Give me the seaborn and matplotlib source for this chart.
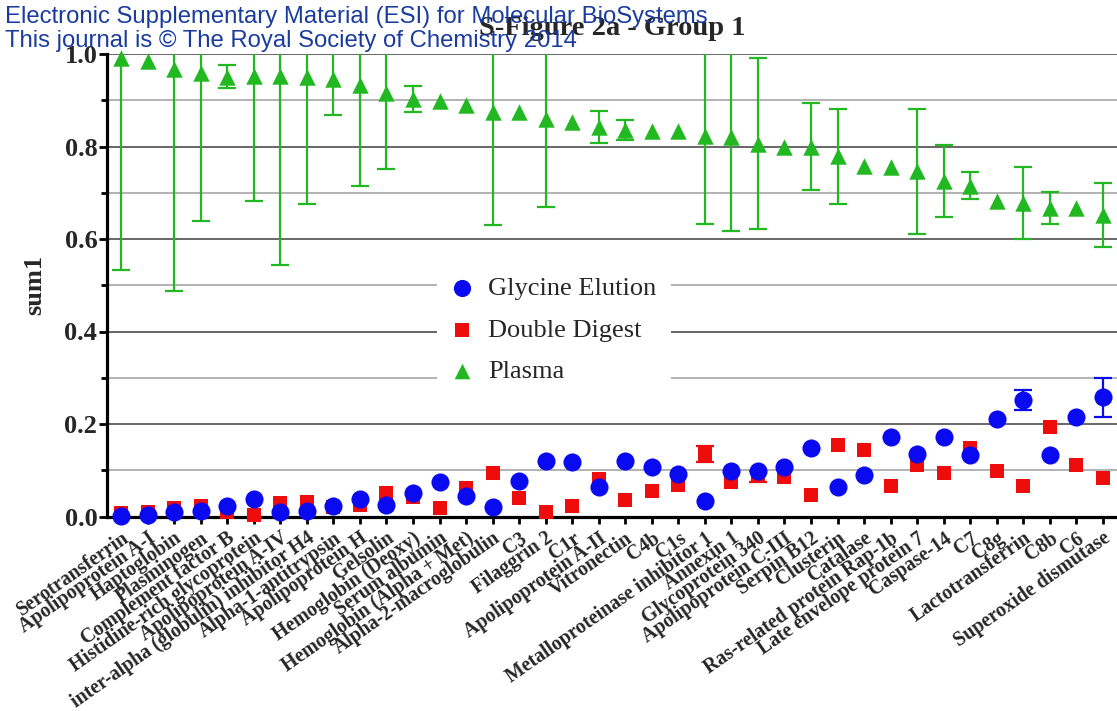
import numpy as np
import pandas as pd
import matplotlib
matplotlib.use("Agg")
import matplotlib.pyplot as plt
from matplotlib.ticker import MultipleLocator, FormatStrFormatter
import seaborn as sns

proteins = ["Serotransferrin", "Apolipoprotein A-I", "Haptoglobin", "Plasminogen",
            "Complement factor B", "Histidine-rich glycoprotein", "Apolipoprotein A-IV",
            "inter-alpha (globulin) inhibitor H4", "Alpha-1-antitrypsin", "Apolipoprotein H",
            "Gelsolin", "Hemoglobin (Deoxy)", "Serum albumin", "Hemoglobin (Alpha + Met)",
            "Alpha-2-macroglobulin", "C3", "Filaggrin 2", "C1r", "Apolipoprotein A-II",
            "Vitronectin", "C4b", "C1s", "Metalloproteinase inhibitor 1", "Annexin 1",
            "Glycoprotein 340", "Apolipoprotein C-III", "Serpin B12", "Clusterin", "Catalase",
            "Ras-related protein Rap-1b", "Late envelope protein 7", "Caspase-14", "C7", "C8g",
            "Lactotransferrin", "C8b", "C6", "Superoxide dismutase"]

plasma = [0.991, 0.984, 0.968, 0.958, 0.951, 0.952, 0.952, 0.950, 0.945, 0.933,
          0.915, 0.902, 0.899, 0.889, 0.875, 0.875, 0.859, 0.852, 0.842, 0.836,
          0.833, 0.833, 0.823, 0.820, 0.806, 0.800, 0.800, 0.779, 0.758, 0.756,
          0.746, 0.725, 0.715, 0.682, 0.678, 0.667, 0.667, 0.652]
plasma_err = [0.458, 0.0, 0.481, 0.319, 0.025, 0.269, 0.409, 0.275, 0.077, 0.218,
              0.164, 0.028, 0.0, 0.0, 0.245, 0.0, 0.190, 0.0, 0.034, 0.022,
              0.0, 0.0, 0.190, 0.202, 0.185, 0.0, 0.095, 0.103, 0.0, 0.0,
              0.136, 0.078, 0.029, 0.0, 0.077, 0.034, 0.0, 0.070]

glycine = [0.002, 0.003, 0.010, 0.012, 0.023, 0.037, 0.010, 0.012, 0.023, 0.037,
           0.025, 0.050, 0.075, 0.045, 0.021, 0.077, 0.121, 0.118, 0.064, 0.121,
           0.106, 0.092, 0.034, 0.099, 0.099, 0.107, 0.148, 0.063, 0.090, 0.171,
           0.135, 0.171, 0.132, 0.211, 0.252, 0.132, 0.215, 0.258]
glycine_err = [0.0] * 34 + [0.021, 0.0, 0.0, 0.042]

digest = [0.008, 0.010, 0.018, 0.023, 0.010, 0.003, 0.030, 0.032, 0.020, 0.025,
          0.051, 0.043, 0.018, 0.061, 0.095, 0.039, 0.010, 0.023, 0.082, 0.036,
          0.056, 0.069, 0.135, 0.074, 0.087, 0.085, 0.047, 0.154, 0.143, 0.067,
          0.111, 0.095, 0.148, 0.099, 0.067, 0.193, 0.111, 0.083]
digest_err = [0.0] * 22 + [0.017, 0.0, 0.012] + [0.0] * 13

series_names = ["Glycine Elution", "Double Digest", "Plasma"]
colors = {"Glycine Elution": "#0a0af0", "Double Digest": "#ee0c0c", "Plasma": "#22b822"}

sns.set_theme(style="white")
plt.rcParams["font.family"] = ["Liberation Serif", "DejaVu Serif"]

fig = plt.figure(figsize=(11.17, 7.11), dpi=100)
ax = fig.add_axes([107 / 1117, 1 - 516.5 / 711, 1010 / 1117, 462.5 / 711])

df = pd.DataFrame({"protein": proteins, "Plasma": plasma,
                   "Double Digest": digest, "Glycine Elution": glycine})

x_num = np.arange(len(proteins))

# error bars
def draw_err(vals, errs, color, lw, cap, z):
    vals = np.asarray(vals)
    errs = np.asarray(errs)
    m = errs > 0
    ax.errorbar(x_num[m], vals[m], yerr=errs[m], fmt="none", ecolor=color,
                elinewidth=lw, capsize=cap, capthick=lw, zorder=z)

draw_err(plasma, plasma_err, colors["Plasma"], 1.6, 6.5, 3)
draw_err(digest, digest_err, colors["Double Digest"], 1.6, 6.5, 4)
draw_err(glycine, glycine_err, colors["Glycine Elution"], 1.6, 6.5, 5)

df["pos"] = x_num
sns.scatterplot(data=df, x="pos", y="Plasma", marker="^", s=140, color=colors["Plasma"],
                linewidth=0, ax=ax, label="Plasma", clip_on=False, zorder=6)
sns.scatterplot(data=df, x="pos", y="Double Digest", marker="s", s=110,
                color=colors["Double Digest"], linewidth=0, ax=ax,
                label="Double Digest", clip_on=False, zorder=7)
sns.scatterplot(data=df, x="pos", y="Glycine Elution", marker="o", s=170,
                color=colors["Glycine Elution"], linewidth=0, ax=ax,
                label="Glycine Elution", clip_on=False, zorder=8)

ax.set_xlim(-0.53, 37.53)
ax.set_ylim(0, 1.0)
ax.set_xticks(x_num)
ax.set_xticklabels(proteins)
ax.yaxis.set_major_locator(MultipleLocator(0.2))
ax.yaxis.set_minor_locator(MultipleLocator(0.1))
ax.yaxis.set_major_formatter(FormatStrFormatter("%.1f"))

ax.set_axisbelow(True)
ax.yaxis.grid(True, which="major", color="#5a5a5a", linewidth=1.3)
ax.yaxis.grid(True, which="minor", color="#a5a5a5", linewidth=1.2)
ax.xaxis.grid(False)

for s in ["top", "right"]:
    ax.spines[s].set_visible(False)
for s in ["left", "bottom"]:
    ax.spines[s].set_color("black")
    ax.spines[s].set_linewidth(2.3)

ax.tick_params(axis="y", which="major", direction="out", length=5.5, width=2, color="black",
               pad=1.5, labelsize=19, left=True)
ax.tick_params(axis="y", which="minor", direction="out", length=4.5, width=2, color="black", left=True)
ax.tick_params(axis="x", which="major", direction="out", length=5, width=2, color="black",
               pad=3.5, labelsize=14.3, bottom=True)
for t in ax.get_yticklabels():
    t.set_fontweight("bold")
for t in ax.get_xticklabels():
    t.set_fontweight("bold")
    t.set_rotation(35)
    t.set_ha("right")
    t.set_va("top")
    t.set_rotation_mode("anchor")

ax.set_xlabel("")
ax.set_ylabel("sum1", fontsize=19, fontweight="bold")
ax.yaxis.set_label_coords(-0.0604, 0.5)

ax.set_title("S-Figure 2a - Group 1", fontsize=20.5, fontweight="bold", pad=14)

handles, labels = ax.get_legend_handles_labels()
order = [labels.index(n) for n in series_names]
leg = ax.legend([handles[i] for i in order], [labels[i] for i in order],
                loc="center left", bbox_to_anchor=(0.3264, 0.4033), borderaxespad=0,
                frameon=True, facecolor="white", edgecolor="none", framealpha=1,
                fontsize=19, handlelength=0.8, handletextpad=0.6, borderpad=0.55,
                labelspacing=0.69, markerscale=0.95)
leg.set_zorder(9)

hdr = "#1a3c9e"
fig.text(5 / 1117, 1 - 23.5 / 711, "Electronic Supplementary Material (ESI) for Molecular BioSystems",
         family="Liberation Sans", fontsize=17.2, color=hdr, va="baseline", ha="left", zorder=20)
fig.text(5 / 1117, 1 - 47.5 / 711, "This journal is \u00a9 The Royal Society of Chemistry 2014",
         family="Liberation Sans", fontsize=17.2, color=hdr, va="baseline", ha="left", zorder=20)

fig.savefig("out.png", dpi=100)
